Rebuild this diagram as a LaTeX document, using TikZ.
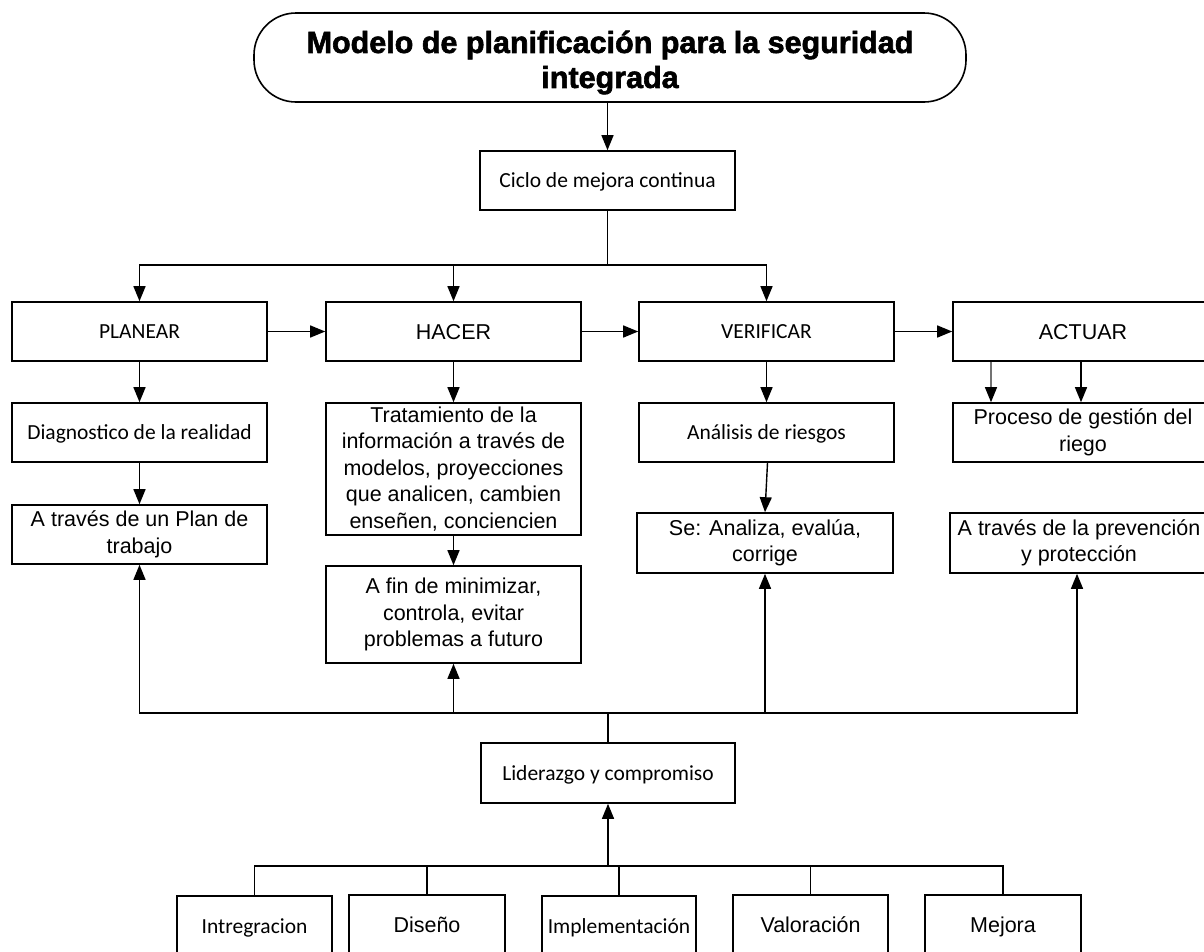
\documentclass[tikz,border=0pt]{standalone}
\usepackage{fontspec}
\setmainfont{Liberation Sans}
\newfontfamily\calfont{Carlito}
\newfontfamily\titlefont[FakeBold=2]{Liberation Sans Bold}
\usetikzlibrary{arrows.meta}
\tikzset{
  box/.style={draw=black, line width=1.6pt, rectangle, inner sep=0pt, align=center,
    font=\fontsize{21.5}{26.5}\selectfont},
  cbox/.style={box, font=\calfont\fontsize{21.5}{26.5}\selectfont},
  aone/.style={text height=15.4pt, text depth=0pt},
  cone/.style={text height=14pt, text depth=0pt},
  wide/.style={minimum width=255pt},
  rowh/.style={minimum height=59pt},
  conn/.style={draw=black, line width=1.4pt},
  arr/.style={conn, -{Triangle[length=15pt, width=12pt]}},
  grayarr/.style={draw=black!55, line width=1.2pt, -{Triangle[length=15pt, width=12pt, fill=black, color=black]}},
}
\begin{document}
\begin{tikzpicture}[x=1pt, y=-1pt]
\useasboundingbox (0,0) rectangle (1204,951);
\clip (0,0) rectangle (1204,951);
% title
\node[draw=black, line width=1.6pt, rounded corners=42pt, minimum width=712pt, minimum height=89pt,
  inner sep=0pt] (title) at (610,57.5) {};
\node[inner sep=0pt, align=center, font=\titlefont\fontsize{30.5}{35}\selectfont] (titletext)
  at ([yshift=-5pt]title.center) {Modelo de planificación para la seguridad\\integrada};
\node[cbox, cone, wide, rowh] (ciclo) at (607.5,180.5) {Ciclo de mejora continua};
% row 1
\node[cbox, cone, wide, rowh] (plan) at (139.5,331.5) {PLANEAR};
\node[box, aone, wide, rowh] (hacer) at (453.5,331.5) {HACER};
\node[cbox, cone, wide, rowh] (verif) at (766.5,331.5) {VERIFICAR};
\node[box, aone, minimum width=260pt, rowh] (actuar) at (1083,331.5) {ACTUAR};
% row 2
\node[cbox, cone, wide, rowh] (diag) at (139.5,432.5) {Diagnostico de la realidad};
\node[box, wide, minimum height=132pt] (trat) at (453.5,469)
  {Tratamiento de la\\información a través de\\modelos, proyecciones\\que analicen, cambien\\enseñen, conciencien};
\node[cbox, cone, wide, rowh] (anal) at (766.5,432.5) {Análisis de riesgos};
\node[box, minimum width=260pt, rowh] (proc) at (1083,432.5) {Proceso de gestión del\\riego};
% row 3
\node[box, wide, rowh] (plantrab) at (139.5,534.5) {A través de un Plan de\\trabajo};
\node[box, wide, minimum height=97pt] (afin) at (453.5,614.5) {A fin de minimizar,\\controla, evitar\\problemas a futuro};
\node[box, minimum width=256pt, minimum height=60pt] (se) at (765,543) {Se: Analiza, evalúa,\\corrige};
\node[box, minimum width=258pt, minimum height=60pt] (prev) at (1079,543) {A través de la prevención\\y protección};
% leadership
\node[cbox, cone, minimum width=254pt, minimum height=60pt] (lider) at (608,773) {Liderazgo y compromiso};
% bottom row
\node[cbox, cone, minimum width=155pt, minimum height=60pt] (integ) at (254.5,926) {Intregracion};
\node[box, aone, minimum width=156pt, minimum height=60pt] (dis) at (427,925) {Diseño};
\node[cbox, cone, minimum width=154pt, minimum height=60pt] (impl) at (619,926) {Implementación};
\node[box, aone, minimum width=155pt, minimum height=60pt] (val) at (810.5,925) {Valoración};
\node[box, aone, minimum width=156pt, minimum height=60pt] (mej) at (1003,925) {Mejora};
% junctions
\coordinate (j1) at (607.5,265);
\coordinate (j2) at (608,713);
\coordinate (j3) at (608,866);
% connectors top
\draw[arr] (title.south -| ciclo.north) -- (ciclo.north);
\draw[conn] (ciclo.south) -- (j1);
\draw[arr] (j1) -| (plan.north);
\draw[arr] (j1) -| (hacer.north);
\draw[arr] (j1) -| (verif.north);
\draw[arr] (plan.east) -- (hacer.west);
\draw[arr] (hacer.east) -- (verif.west);
\draw[arr] (verif.east) -- (actuar.west);
\draw[arr] (plan.south) -- (diag.north);
\draw[arr] (diag.south) -- (plantrab.north);
\draw[arr] (hacer.south) -- (trat.north);
\draw[arr] (trat.south) -- (afin.north);
\draw[arr] (verif.south) -- (anal.north);
\draw[arr] ([xshift=1pt]anal.south) -- (se.north);
\draw[grayarr] ([xshift=-92pt]actuar.south) -- ([xshift=-92pt]proc.north);
\draw[arr] ([xshift=-2pt]actuar.south) -- ([xshift=-2pt]proc.north);
% connectors bottom
\draw[conn] (lider.north) -- (j2);
\draw[arr] (j2) -| (plantrab.south);
\draw[arr] (j2) -| (afin.south);
\draw[arr] (j2) -| (se.south);
\draw[arr] (j2) -| ([xshift=-2pt]prev.south);
\draw[arr] (j3) -- (lider.south);
\draw[conn] (j3) -| (integ.north);
\draw[conn] (j3) -| (dis.north);
\draw[conn] (j3) -| (impl.north);
\draw[conn] (j3) -| (val.north);
\draw[conn] (j3) -| (mej.north);
\end{tikzpicture}
\end{document}
